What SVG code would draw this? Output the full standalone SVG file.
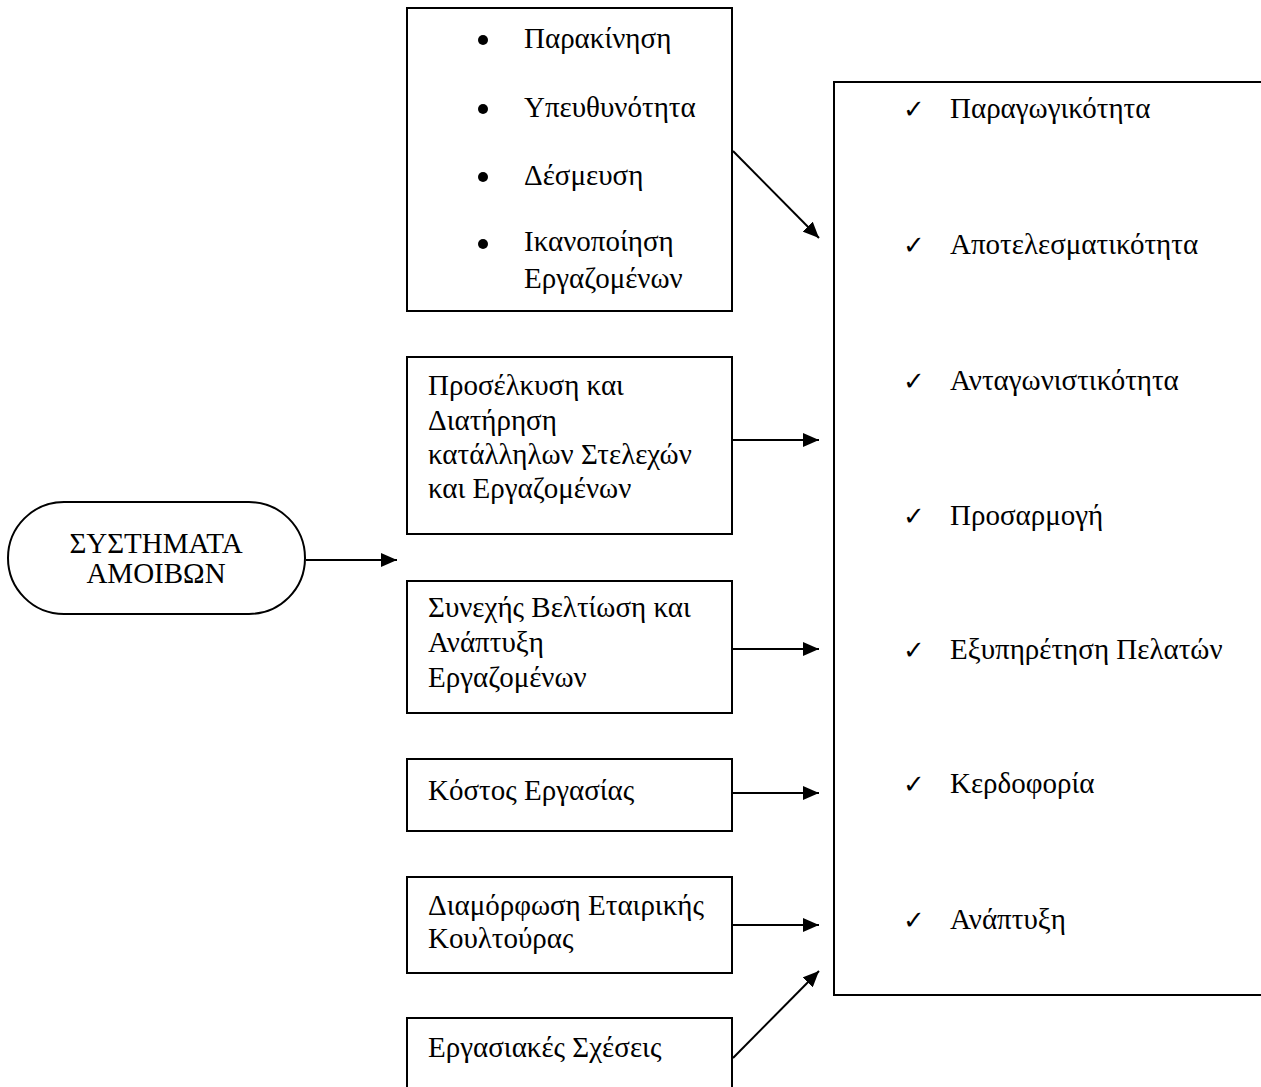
<svg xmlns="http://www.w3.org/2000/svg" width="1261" height="1087" viewBox="0 0 1261 1087">
<defs>
<style>
.box{fill:#fff;stroke:#000;stroke-width:2}
.t{font-family:"Liberation Serif","Times New Roman",serif;font-size:29px;fill:#000}
.c{text-anchor:middle}
.chk{font-family:"DejaVu Sans",sans-serif;font-size:26px;fill:#000}
.ln{stroke:#000;stroke-width:2;fill:none;marker-end:url(#ah)}
</style>
<marker id="ah" markerWidth="16" markerHeight="14" refX="16" refY="7" orient="auto" markerUnits="userSpaceOnUse">
<path d="M0,0 L16,7 L0,14 Z" fill="#000"/>
</marker>
</defs>
<rect width="1261" height="1087" fill="#fff"/>
<g id="connectors">
<line class="ln" x1="733" y1="151" x2="819" y2="238"/>
<line class="ln" x1="733" y1="440" x2="819" y2="440"/>
<line class="ln" x1="733" y1="649" x2="819" y2="649"/>
<line class="ln" x1="733" y1="793" x2="819" y2="793"/>
<line class="ln" x1="733" y1="925" x2="819" y2="925"/>
<line class="ln" x1="733" y1="1058" x2="819" y2="971"/>
<line class="ln" x1="306" y1="560" x2="397" y2="560"/>
</g>
<g id="systems">
<rect class="box" x="8" y="502" width="297" height="112" rx="56" ry="56"/>
<text class="t c" x="156" y="553">ΣΥΣΤΗΜΑΤΑ</text>
<text class="t c" x="156" y="583">ΑΜΟΙΒΩΝ</text>
</g>
<g id="motivation">
<rect class="box" x="407" y="8" width="325" height="303"/>
<circle cx="483" cy="40" r="5"/>
<circle cx="483" cy="109" r="5"/>
<circle cx="483" cy="177" r="5"/>
<circle cx="483" cy="244" r="5"/>
<text class="t" x="524" y="48">Παρακίνηση</text>
<text class="t" x="524" y="117">Υπευθυνότητα</text>
<text class="t" x="524" y="185">Δέσμευση</text>
<text class="t" x="524" y="251">Ικανοποίηση</text>
<text class="t" x="524" y="288">Εργαζομένων</text>
</g>
<g id="attraction">
<rect class="box" x="407" y="357" width="325" height="177"/>
<text class="t" x="428" y="395">Προσέλκυση και</text>
<text class="t" x="428" y="430">Διατήρηση</text>
<text class="t" x="428" y="464">κατάλληλων Στελεχών</text>
<text class="t" x="428" y="498">και Εργαζομένων</text>
</g>
<g id="improvement">
<rect class="box" x="407" y="581" width="325" height="132"/>
<text class="t" x="428" y="617">Συνεχής Βελτίωση και</text>
<text class="t" x="428" y="652">Ανάπτυξη</text>
<text class="t" x="428" y="687">Εργαζομένων</text>
</g>
<g id="cost">
<rect class="box" x="407" y="759" width="325" height="72"/>
<text class="t" x="428" y="800">Κόστος Εργασίας</text>
</g>
<g id="culture">
<rect class="box" x="407" y="877" width="325" height="96"/>
<text class="t" x="428" y="915">Διαμόρφωση Εταιρικής</text>
<text class="t" x="428" y="948">Κουλτούρας</text>
</g>
<g id="relations">
<rect class="box" x="407" y="1018" width="325" height="90"/>
<text class="t" x="428" y="1057">Εργασιακές Σχέσεις</text>
</g>
<g id="outcomes">
<rect class="box" x="834" y="82" width="440" height="913"/>
<text class="chk" x="903" y="118">✓</text>
<text class="chk" x="903" y="254">✓</text>
<text class="chk" x="903" y="390">✓</text>
<text class="chk" x="903" y="525">✓</text>
<text class="chk" x="903" y="659">✓</text>
<text class="chk" x="903" y="793">✓</text>
<text class="chk" x="903" y="929">✓</text>
<text class="t" x="950" y="118">Παραγωγικότητα</text>
<text class="t" x="950" y="254">Αποτελεσματικότητα</text>
<text class="t" x="950" y="390">Ανταγωνιστικότητα</text>
<text class="t" x="950" y="525">Προσαρμογή</text>
<text class="t" x="950" y="659">Εξυπηρέτηση Πελατών</text>
<text class="t" x="950" y="793">Κερδοφορία</text>
<text class="t" x="950" y="929">Ανάπτυξη</text>
</g>
</svg>
